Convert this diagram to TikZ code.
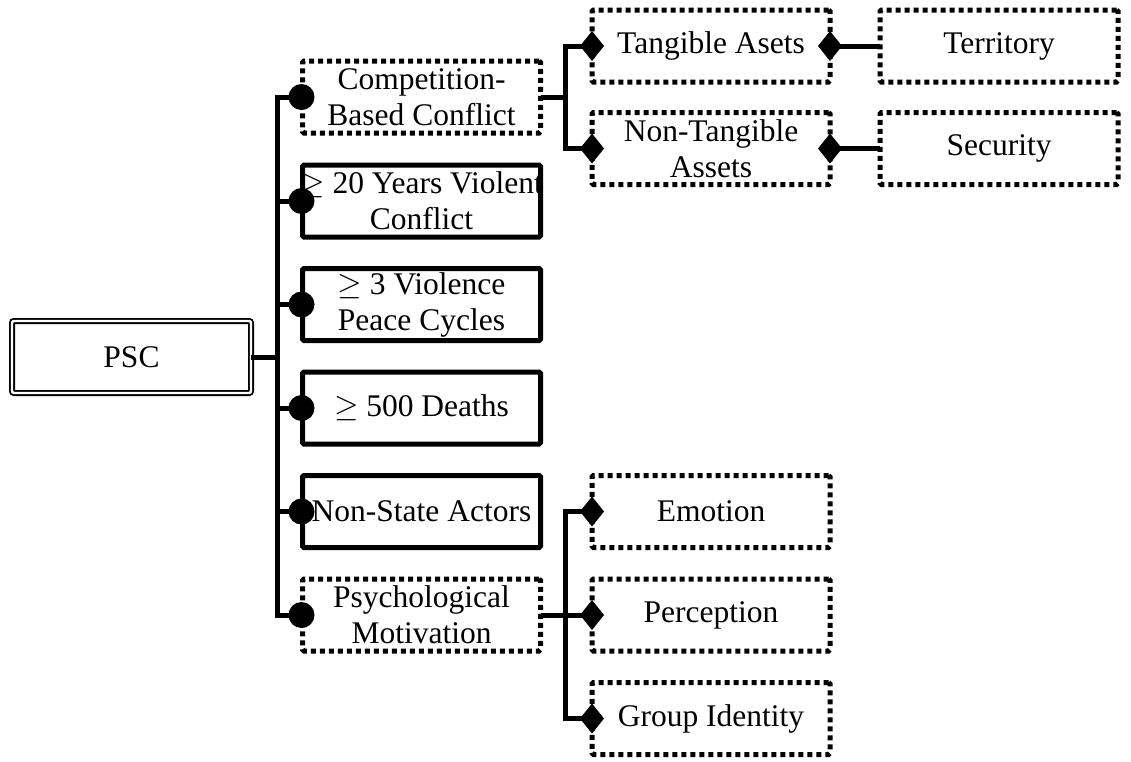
\documentclass[tikz,border=0pt]{standalone}
\usepackage{graphicx}
\usepackage{fontspec}
\setmainfont{Liberation Serif}
\usetikzlibrary{calc}
\newcommand{\bigge}{\scalebox{1.266}{$\geq$}}
\tikzset{
  box/.style={draw, line width=5pt, rounded corners=1.5pt, outer sep=0pt,
    minimum width=238pt, minimum height=72pt, inner sep=0pt, align=center,
    font=\fontsize{31.5}{36}\selectfont},
  solidbox/.style={box},
  dotbox/.style={box, dash pattern=on 5pt off 4pt},
  rootbox/.style={draw, double, line width=1.8pt, double distance=2.4pt,
    rounded corners=2pt, outer sep=0pt, minimum width=239pt, minimum height=72pt,
    inner sep=0pt, font=\fontsize{31.5}{36}\selectfont},
  conn/.style={line width=5pt},
}
\begin{document}
\begin{tikzpicture}[x=1pt,y=-1pt]
\useasboundingbox (0,0) rectangle (1131,761);
% root
\node[rootbox] (psc) at (131.5,357) {PSC};
% children
\node[dotbox]   (c1) at (421.5,97)    {Competition-\\Based Conflict};
\node[solidbox] (c2) at (421.5,201)   {\makebox[234pt]{\hss\bigge{} 20 Years Violent\hss}\\Conflict};
\node[solidbox] (c3) at (421.5,304.5) {\bigge{} 3 Violence\\Peace Cycles};
\node[solidbox] (c4) at (421.5,408)   {\bigge{} 500 Deaths};
\node[solidbox] (c5) at (421.5,511.5) {Non-State Actors};
\node[dotbox]   (c6) at (421.5,615)   {Psychological\\Motivation};
% grandchildren
\node[dotbox] (g1) at (711,46)    {Tangible Asets};
\node[dotbox] (g2) at (711,148.5) {Non-Tangible\\Assets};
\node[dotbox] (t1) at (999,46)    {Territory};
\node[dotbox] (t2) at (999,148.5) {Security};
\node[dotbox] (e1) at (711,511.5) {Emotion};
\node[dotbox] (e2) at (711,615)   {Perception};
\node[dotbox] (e3) at (711,718.5) {Group Identity};
% trunk coordinates
\coordinate (tx) at (277,0);
\coordinate (sx) at (565,0);
% root connectors
\foreach \c in {c1,c2,c3,c4,c5,c6}{
  \draw[conn] (psc.east) -| (\c.west -| tx) -- (\c.west);
  \fill (\c.west) ++(-1,0) circle (13);
}
% competition connectors
\foreach \g in {g1,g2}{
  \draw[conn] (c1.east) -| (\g.west -| sx) -- (\g.west);
  \fill[shift={(\g.west)}] (-12,0) -- (0,-15) -- (12,0) -- (0,15) -- cycle;
}
\draw[conn] (g1.east) -- (t1.west);
\fill[shift={(g1.east)}] (-12,0) -- (0,-15) -- (12,0) -- (0,15) -- cycle;
\draw[conn] (g2.east) -- (t2.west);
\fill[shift={(g2.east)}] (-12,0) -- (0,-15) -- (12,0) -- (0,15) -- cycle;
% psychological connectors
\foreach \e in {e1,e2,e3}{
  \draw[conn] (c6.east) -| (\e.west -| sx) -- (\e.west);
  \fill[shift={(\e.west)}] (-12,0) -- (0,-15) -- (12,0) -- (0,15) -- cycle;
}
\end{tikzpicture}
\end{document}
